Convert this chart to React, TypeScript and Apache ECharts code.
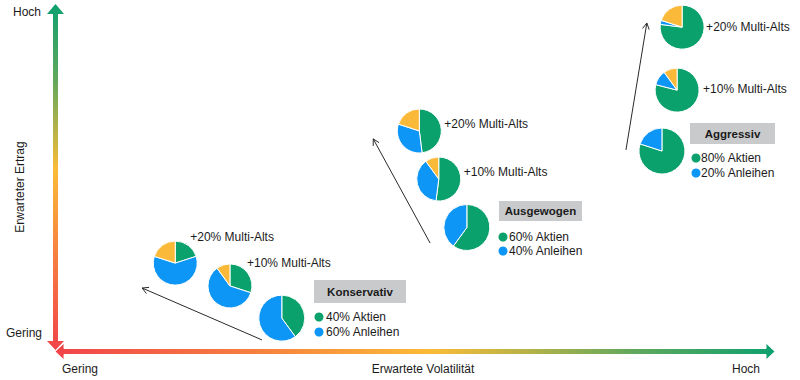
import React, { useEffect, useRef } from "react";
import * as echarts from "echarts";

// Portfolios and variants
const portfolios = ["Konservativ", "Ausgewogen", "Aggressiv"];
const variantLabels = ["", "+10% Multi-Alts", "+20% Multi-Alts"];
// Shares per pie [base, +10%, +20%]
const aktien = [
  [40, 30, 20],
  [60, 52, 48],
  [80, 79, 77],
];
const anleihen = [
  [60, 60, 60],
  [40, 38, 32],
  [20, 11, 3],
];
const multiAlts = [
  [0, 10, 20],
  [0, 10, 20],
  [0, 10, 20],
];
// Positions in axis units (0–100): expected volatility / expected return
const volatility = [
  [31.5, 24.3, 16.7],
  [57.2, 53.3, 50.6],
  [84.3, 86.4, 87.1],
];
const ertrag = [
  [9.5, 18.8, 25.4],
  [35.7, 49.7, 63.6],
  [57.8, 75.4, 93.6],
];
const legendLines = [
  ["40% Aktien", "60% Anleihen"],
  ["60% Aktien", "40% Anleihen"],
  ["80% Aktien", "20% Anleihen"],
];
// Trend arrows (volatility, return)
const trendFrom = [
  [28.75, 3.2],
  [52.1, 31.2],
  [79.3, 58.1],
];
const trendTo = [
  [12.1, 18.2],
  [44.2, 61.3],
  [82.2, 94.8],
];
const axisLow = "Gering";
const axisHigh = "Hoch";
const xTitle = "Erwartete Volatilität";
const yTitle = "Erwarteter Ertrag";

const GREEN = "#0aa16d";
const BLUE = "#0d96f6";
const YELLOW = "#fbb93a";
const TEXT = "#1b1b1b";
const FONT = '"Liberation Sans", Arial, sans-serif';

export default function App() {
  const ref = useRef<HTMLDivElement>(null);
  useEffect(() => {
    if (!ref.current) return;
    const chart = echarts.init(ref.current, null, { renderer: "svg" });
    const points: number[][] = [];
    volatility.forEach((row, g) => row.forEach((v, k) => points.push([v, ertrag[g][k]])));
    const base: any = {
      animation: false,
      grid: { left: 55, top: 5, width: 720, height: 346, show: false },
      xAxis: { type: "value", min: 0, max: 100, show: false },
      yAxis: { type: "value", min: 0, max: 100, show: false },
      series: [
        { type: "scatter", data: points, symbolSize: 0, silent: true, itemStyle: { opacity: 0 } },
      ],
    };
    chart.setOption(base);
    const px = (v: number, r: number) =>
      chart.convertToPixel({ gridIndex: 0 }, [v, r]) as number[];

    const series: any[] = [...base.series];
    const graphic: any[] = [];

    // Axes arrows
    const cx = 55.5;
    graphic.push({
      type: "polygon",
      z: 1,
      shape: {
        points: [
          [cx, 4], [cx + 8.5, 14], [cx + 2.5, 14], [cx + 2.5, 341], [cx + 8.5, 341],
          [cx, 350], [cx - 8.5, 341], [cx - 2.5, 341], [cx - 2.5, 14], [cx - 8.5, 14],
        ],
      },
      style: {
        fill: {
          type: "linear", x: 0, y: 0, x2: 0, y2: 1,
          colorStops: [
            { offset: 0, color: "#0da06e" },
            { offset: 0.22, color: "#62a85c" },
            { offset: 0.36, color: "#b4b248" },
            { offset: 0.48, color: "#fbbb37" },
            { offset: 0.7, color: "#f7853f" },
            { offset: 1, color: "#f1444a" },
          ],
        },
      },
    });
    const cy = 351.5;
    graphic.push({
      type: "polygon",
      z: 2,
      shape: {
        points: [
          [55, cy], [64, cy - 8.5], [64, cy - 3], [766, cy - 3], [766, cy - 8.5],
          [775, cy], [766, cy + 8.5], [766, cy + 3], [64, cy + 3], [64, cy + 8.5],
        ],
      },
      style: {
        stroke: "#ffffff",
        lineWidth: 1,
        fill: {
          type: "linear", x: 0, y: 0, x2: 1, y2: 0,
          colorStops: [
            { offset: 0, color: "#f1444a" },
            { offset: 0.28, color: "#f6803f" },
            { offset: 0.52, color: "#fbbb37" },
            { offset: 0.66, color: "#b4b248" },
            { offset: 0.8, color: "#62a85c" },
            { offset: 1, color: "#0da06e" },
          ],
        },
      },
    });

    const txt = (text: string, x: number, y: number, align: string, extra: any = {}) => ({
      type: "text",
      x,
      y,
      z: 5,
      ...extra,
      style: {
        text,
        fill: TEXT,
        fontSize: 12,
        fontFamily: FONT,
        textAlign: align,
        textVerticalAlign: "middle",
        ...(extra.style || {}),
      },
    });

    graphic.push(txt(axisHigh, 41, 12, "right"));
    graphic.push(txt(axisLow, 42, 333, "right"));
    graphic.push({ ...txt(yTitle, 20, 187, "center"), rotation: Math.PI / 2 });
    graphic.push(txt(axisLow, 62, 369, "left"));
    graphic.push(txt(xTitle, 423, 369, "center"));
    graphic.push(txt(axisHigh, 760, 369, "right"));

    // Trend arrows
    trendFrom.forEach((f, i) => {
      const a = px(f[0], f[1]);
      const b = px(trendTo[i][0], trendTo[i][1]);
      const ang = Math.atan2(b[1] - a[1], b[0] - a[0]);
      const L = 7;
      const s = 0.5;
      graphic.push({
        type: "line",
        z: 3,
        shape: { x1: a[0], y1: a[1], x2: b[0], y2: b[1] },
        style: { stroke: "#2a2a2a", lineWidth: 1 },
      });
      graphic.push({
        type: "polyline",
        z: 3,
        shape: {
          points: [
            [b[0] - L * Math.cos(ang - s), b[1] - L * Math.sin(ang - s)],
            [b[0], b[1]],
            [b[0] - L * Math.cos(ang + s), b[1] - L * Math.sin(ang + s)],
          ],
        },
        style: { stroke: "#2a2a2a", lineWidth: 1, fill: null },
      });
    });

    // Pies
    const labelOffsets = [
      [null, [17, -23], [15, -26]],
      [null, [25, -7], [25, -7]],
      [null, [26, -1], [24, 0]],
    ];
    portfolios.forEach((name, g) => {
      volatility[g].forEach((v, k) => {
        const c = px(v, ertrag[g][k]);
        const data = [
          { name: "Aktien", value: aktien[g][k], itemStyle: { color: GREEN } },
          { name: "Anleihen", value: anleihen[g][k], itemStyle: { color: BLUE } },
          { name: "Multi-Alts", value: multiAlts[g][k], itemStyle: { color: YELLOW } },
        ].filter((d) => d.value > 0);
        series.push({
          type: "pie",
          name: name + variantLabels[k],
          center: [c[0], c[1]],
          radius: k === 0 ? 23 : 22,
          startAngle: 90,
          clockwise: true,
          silent: true,
          label: { show: false },
          labelLine: { show: false },
          itemStyle: { borderColor: "#ffffff", borderWidth: 1 },
          data,
          z: 4,
        });
        const off = labelOffsets[g][k];
        if (off) {
          graphic.push(txt(variantLabels[k], c[0] + off[0], c[1] + off[1], "left"));
        }
      });
    });

    // Portfolio legend boxes
    const boxes = [
      { rect: [314, 280, 92, 23], cx: 319, ys: [317, 332], tx: 326 },
      { rect: [499, 201, 83, 20], cx: 503, ys: [237, 251], tx: 509 },
      { rect: [690, 123, 85, 21], cx: 696, ys: [158, 173], tx: 701 },
    ];
    boxes.forEach((b, g) => {
      graphic.push({
        type: "rect",
        z: 3,
        shape: { x: b.rect[0], y: b.rect[1], width: b.rect[2], height: b.rect[3] },
        style: { fill: "#c9cacc" },
      });
      graphic.push(
        txt(portfolios[g], b.rect[0] + b.rect[2] / 2, b.rect[1] + b.rect[3] / 2, "center", {
          style: { fontWeight: "bold", fontSize: 11.5 },
        })
      );
      legendLines[g].forEach((t, j) => {
        graphic.push({
          type: "circle",
          z: 3,
          shape: { cx: b.cx, cy: b.ys[j], r: 4.5 },
          style: { fill: j === 0 ? GREEN : BLUE },
        });
        graphic.push(txt(t, b.tx, b.ys[j], "left"));
      });
    });

    chart.setOption({ ...base, series, graphic }, true);
    return () => chart.dispose();
  }, []);
  return (
    <div
      ref={ref}
      style={{ position: "fixed", left: 0, top: 0, width: 800, height: 380, background: "#fff" }}
    />
  );
}
